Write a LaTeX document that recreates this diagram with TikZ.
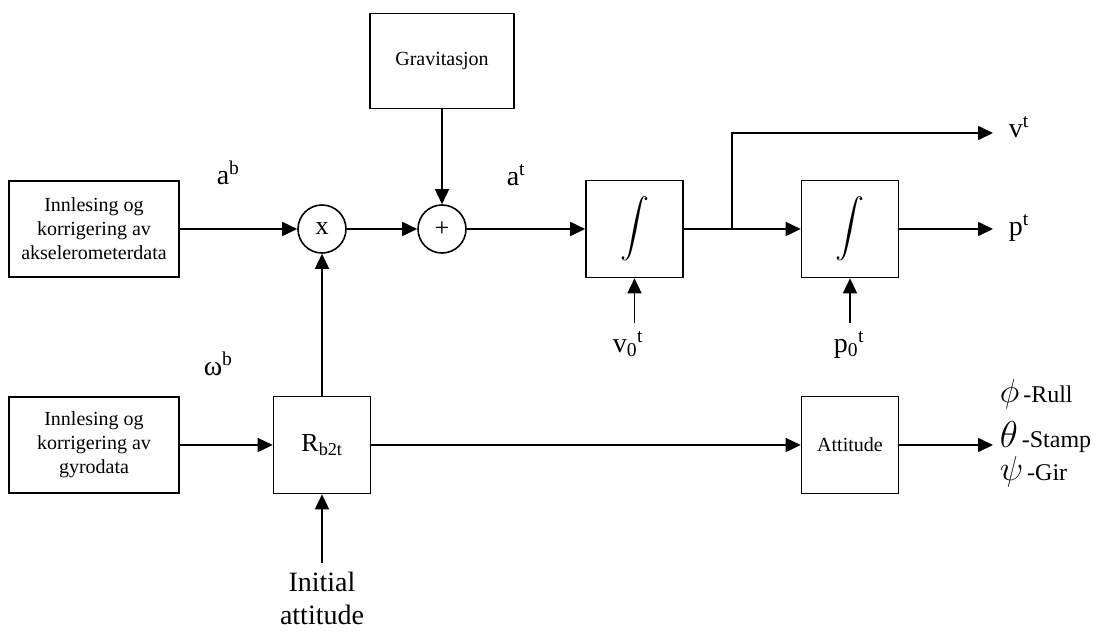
\documentclass[tikz,border=0pt]{standalone}
\usepackage{fontspec}
\setmainfont{Liberation Serif}
\usetikzlibrary{arrows.meta}
\newcommand{\bigint}{\scalebox{2.9}{$\displaystyle\int$}}
\newcommand{\gsym}[2]{\scalebox{#1}{$#2$}}
\begin{document}
\begin{tikzpicture}[x=1pt,y=-1pt,
  line width=1.6pt,
  arr/.style={-{Triangle[length=15pt,width=14pt]}},
  blk/.style={draw, line width=1.6pt, inner sep=0pt, align=center,
              font=\fontsize{20}{24}\selectfont},
  sq/.style={blk, minimum width=97pt, minimum height=97pt},
  wide/.style={blk, minimum width=170pt, minimum height=96pt},
  junc/.style={draw, circle, line width=1.6pt, minimum size=48pt, inner sep=0pt},
  lbl/.style={inner sep=0pt, anchor=base west, font=\fontsize{28}{30}\selectfont},
  glbl/.style={inner sep=0pt, anchor=base west, font=\fontsize{24}{28}\selectfont}]
\useasboundingbox (0,0) rectangle (1103,632);

% blocks
\node[wide] (acc) at (94,229) {Innlesing og\\korrigering av\\akselerometerdata};
\node[wide] (gyro) at (94,445) {Innlesing og\\korrigering av\\gyrodata};
\node[blk, minimum width=144pt, minimum height=95pt] (grav) at (442,61) {Gravitasjon};
\node[junc, font=\fontsize{26}{28}\selectfont] (mul) at (322,229) {x};
\node[junc, font=\fontsize{26}{28}\selectfont] (add) at (442,229) {+};
\node[sq] (int1) at (634.5,229) {\bigint};
\node[sq] (int2) at (850,229) {\bigint};
\node[sq, font=\fontsize{26}{28}\selectfont] (rot) at (322,445) {R\textsubscript{b2t}};
\node[sq] (att) at (850,445) {Attitude};

% free ends
\coordinate (br) at (732,229);
\coordinate (vend) at (993,133);
\coordinate (pend) at (993,229);
\coordinate (aend) at (993,445);
\coordinate (ia) at (322,563);
\coordinate (v0s) at (634.5,323);
\coordinate (p0s) at (850,323);

% connectors
\draw[arr] (acc) -- (mul);
\draw[arr] (mul) -- (add);
\draw[arr] (grav) -- (add);
\draw[arr] (add) -- (int1);
\draw[arr] (int1) -- (int2);
\draw[arr] (br) |- (vend);
\draw[arr] (int2) -- (pend);
\draw[arr] (v0s) -- (int1.south);
\draw[arr] (p0s) -- (int2.south);
\draw[arr] (gyro) -- (rot);
\draw[arr] (rot) -- (mul);
\draw[arr] (ia) -- (rot);
\draw[arr] (rot) -- (att);
\draw[arr] (att) -- (aend);

% labels
\node[lbl] (ab) at (216,184) {a\textsuperscript{b}};
\node[lbl] (at) at (506,185) {a\textsuperscript{t}};
\node[lbl] (wb) at (203,375) {ω\textsuperscript{b}};
\node[lbl] (vt) at (1008,137) {v\textsuperscript{t}};
\node[lbl] (pt) at (1008,235) {p\textsuperscript{t}};
\node[lbl] (v0) at (612,352) {v\textsubscript{0}\textsuperscript{t}};
\node[lbl] (p0) at (833,352) {p\textsubscript{0}\textsuperscript{t}};
\node[inner sep=0pt, anchor=north, align=center, font=\fontsize{28}{33}\selectfont] (init) at (322,571) {Initial\\attitude};
\node[glbl] (roll) at (999,402) {\gsym{1.35}{\phi}\,-Rull};
\node[glbl] (pitch) at (999,447) {\gsym{1.5}{\theta}\,-Stamp};
\node[glbl] (yaw) at (999,480) {\gsym{1.4}{\psi}\,-Gir};
\end{tikzpicture}
\end{document}
